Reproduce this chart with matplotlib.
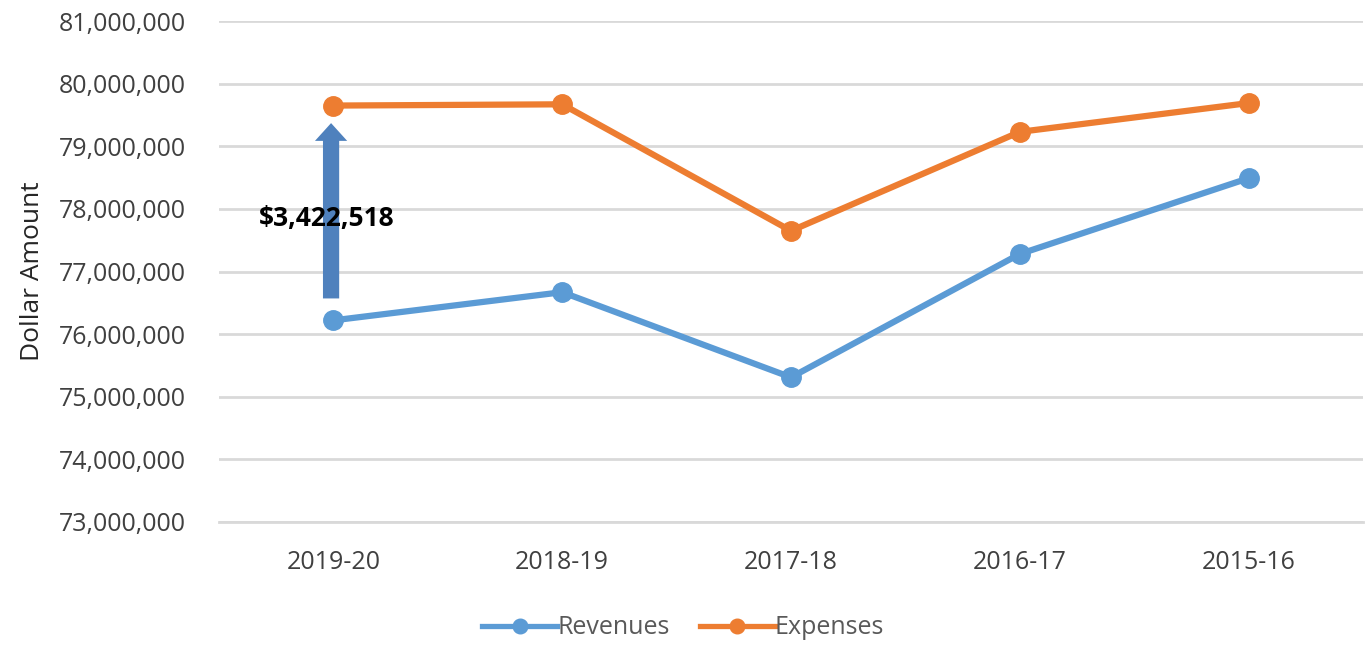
import matplotlib
matplotlib.use("Agg")
import matplotlib.pyplot as plt
from matplotlib.ticker import FuncFormatter, MultipleLocator

categories = ["2019-20", "2018-19", "2017-18", "2016-17", "2015-16"]
revenues = [76220000, 76670000, 75310000, 77280000, 78490000]
expenses = [79650000, 79670000, 77650000, 79230000, 79690000]
annotation_text = "$3,422,518"

plt.rcParams['font.family'] = ['Open Sans', 'DejaVu Sans']

fig = plt.figure(figsize=(13.71, 6.45), dpi=100)
ax = fig.add_axes([0.1597, 0.1907, 0.9942 - 0.1597, 0.9674 - 0.1907])

x = list(range(len(categories)))
ax.plot(x, revenues, color="#5B9BD5", lw=4.5, marker="o", ms=14, label="Revenues", zorder=3)
ax.plot(x, expenses, color="#ED7D31", lw=4.5, marker="o", ms=14, label="Expenses", zorder=3)

ax.set_xlim(-0.5, len(categories) - 0.5)
ax.set_ylim(73000000, 81000000)
ax.yaxis.set_major_locator(MultipleLocator(1000000))
ax.yaxis.set_major_formatter(FuncFormatter(lambda v, p: f"{int(v):,}"))
ax.set_xticks(x)
ax.set_xticklabels(categories)
ax.grid(axis="y", color="#D9D9D9", lw=2)
ax.set_axisbelow(True)
for s in ["top", "right", "left"]:
    ax.spines[s].set_visible(False)
ax.spines["bottom"].set_color("#D9D9D9")
ax.spines["bottom"].set_linewidth(2)
ax.tick_params(axis="both", length=0, labelsize=18, labelcolor="#404040")
ax.tick_params(axis="x", pad=20)
ax.tick_params(axis="y", pad=24)
ax.set_ylabel("Dollar Amount", fontsize=19, color="#262626", labelpad=10)

# annotation arrow: from above revenue to below expense at first category
arrow_bottom = revenues[0] + 350000
arrow_top = expenses[0] - 280000
ax.annotate("", xy=(-0.01, arrow_top), xytext=(-0.01, arrow_bottom),
            arrowprops=dict(arrowstyle="simple,head_length=0.8,head_width=1.45,tail_width=0.73",
                            mutation_scale=16, color="#4F81BD", lw=0, shrinkA=0, shrinkB=0),
            zorder=4)
ax.text(-0.03, 77850000, annotation_text, ha="center", va="center",
        fontsize=19, fontweight="bold", color="black", zorder=5)

leg = ax.legend(loc="center", bbox_to_anchor=(683 / 1371, 1 - 628 / 645),
                bbox_transform=fig.transFigure, ncol=2, frameon=False,
                fontsize=18, handlelength=3.0, columnspacing=1.2, handletextpad=0.0,
                markerscale=0.75, labelcolor="#595959")
for h in leg.get_lines():
    h.set_linewidth(3.8)

fig.savefig("out.png", dpi=100)
